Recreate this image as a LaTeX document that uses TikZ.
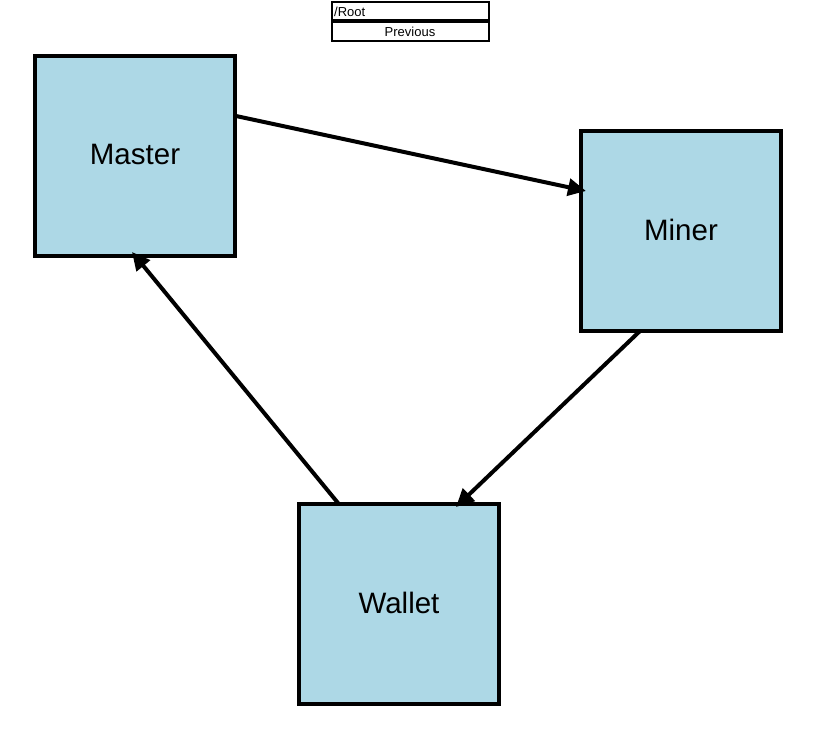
\documentclass[tikz,border=0pt]{standalone}
\usepackage{fontspec}
\setmainfont{Liberation Sans}
\usetikzlibrary{arrows.meta}
\definecolor{boxblue}{HTML}{ADD8E6}
\begin{document}
\begin{tikzpicture}[x=1pt,y=-1pt,
  bigbox/.style={draw=black,line width=4pt,fill=boxblue,minimum width=200pt,minimum height=200pt,inner sep=0pt,outer sep=0pt,font=\fontsize{29.5}{32}\selectfont},
  navbox/.style={draw=black,line width=2pt,fill=white,minimum width=157pt,minimum height=19pt,inner sep=0pt,outer sep=0pt,font=\fontsize{13}{15}\selectfont},
  conn/.style={line width=4pt,-{Triangle[length=18pt,width=17pt]}}]
\useasboundingbox (0,0) rectangle (823,735);
\node[navbox,minimum height=18pt] (root) at (410,11.5) {};
\node[anchor=west,inner sep=0pt,font=\fontsize{13}{15}\selectfont] (roottext) at (334,11.5) {/Root};
\node[navbox] (prev) at (410,32) {Previous};
\node[bigbox] (master) at (135,156) {\raisebox{3pt}{Master}};
\node[bigbox] (miner) at (681,231) {\raisebox{3pt}{Miner}};
\node[bigbox] (wallet) at (399,604) {\raisebox{3pt}{Wallet}};
\draw[conn] ([xshift=1pt,yshift=40pt]master.east) -- ([xshift=5pt,yshift=40pt]miner.west);
\draw[conn] ([xshift=-41pt]miner.south) -- ([xshift=57pt,yshift=-3pt]wallet.north);
\draw[conn] ([xshift=-61pt,yshift=1pt]wallet.north) -- ([xshift=-3pt,yshift=4pt]master.south);
\end{tikzpicture}
\end{document}
